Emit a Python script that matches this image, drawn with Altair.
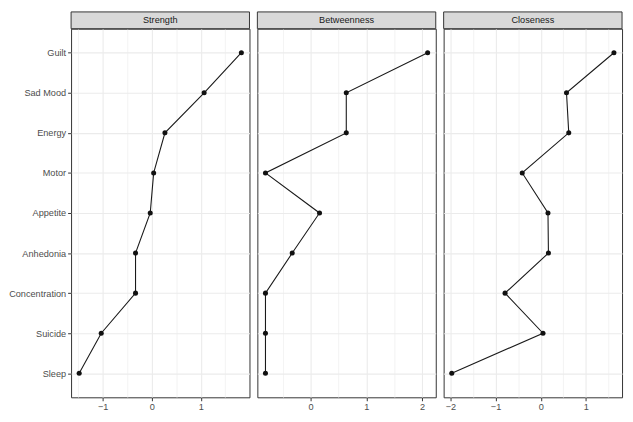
import altair as alt
import pandas as pd

symptoms = ["Guilt", "Sad Mood", "Energy", "Motor", "Appetite", "Anhedonia",
            "Concentration", "Suicide", "Sleep"]
strength = [1.83, 1.07, 0.27, 0.04, -0.03, -0.33, -0.33, -1.03, -1.48]
betweenness = [2.10, 0.64, 0.64, -0.81, 0.16, -0.33, -0.81, -0.81, -0.81]
closeness = [1.62, 0.57, 0.62, -0.41, 0.16, 0.17, -0.79, 0.05, -1.97]

measures = ["Strength", "Betweenness", "Closeness"]
major_ticks = {"Strength": [-1, 0, 1], "Betweenness": [0, 1, 2], "Closeness": [-2, -1, 0, 1]}
minor_ticks = {"Strength": [-1.5, -0.5, 0.5, 1.5],
               "Betweenness": [-0.5, 0.5, 1.5],
               "Closeness": [-1.5, -0.5, 0.5, 1.5]}

W = 181
H = 374
STRIP = 17
FONT = "Liberation Sans"


def panel(name, vals, show_y):
    df = pd.DataFrame({"symptom": symptoms, "value": vals, "idx": list(range(len(symptoms)))})
    lo, hi = min(vals), max(vals)
    pad = 0.05 * (hi - lo)
    ticks = sorted(float(t) for t in major_ticks[name] + minor_ticks[name])
    minor_test = "datum.value % 1 !== 0"
    x = alt.X(
        "value:Q",
        scale=alt.Scale(domain=[lo - pad, hi + pad], nice=False, zero=False),
        axis=alt.Axis(
            values=ticks, title=None, domain=False, grid=True,
            labelExpr="datum.value % 1 === 0 ? format(datum.value, 'd') : ''",
            tickOpacity={"condition": {"test": minor_test, "value": 0}, "value": 1},
            gridWidth={"condition": {"test": minor_test, "value": 0.6}, "value": 1.1},
        ),
    )
    y = alt.Y(
        "symptom:N", sort=symptoms,
        scale=alt.Scale(type="point", padding=0.6),
        axis=alt.Axis(title=None, domain=False, grid=True, gridWidth=1.1,
                      labels=show_y, ticks=show_y),
    )
    base = alt.Chart(df)
    line = base.mark_line(color="#1a1a1a", strokeWidth=1.1).encode(x=x, y=y, order="idx:Q")
    pts = base.mark_circle(size=26, color="#111111", opacity=1).encode(x=x, y=y)

    sdata = alt.Data(values=[{"label": name}])
    rect = alt.Chart(sdata).mark_rect(fill="#D9D9D9", stroke="#333333", strokeWidth=1).encode(
        x=alt.value(0), x2=alt.value(W), y=alt.value(-STRIP), y2=alt.value(0))
    txt = alt.Chart(sdata).mark_text(font=FONT, fontSize=9.3, color="#1A1A1A",
                                     baseline="middle", align="center").encode(
        x=alt.value(W / 2), y=alt.value(-STRIP / 2), text="label:N")
    return alt.layer(rect, txt, line, pts).properties(width=W, height=H)


vals_by = {"Strength": strength, "Betweenness": betweenness, "Closeness": closeness}
panels = [panel(m, vals_by[m], i == 0) for i, m in enumerate(measures)]

chart = alt.hconcat(*panels, spacing=6).properties(
    padding={"left": 0, "top": 0, "right": 2, "bottom": 2}
).configure_view(
    stroke="#333333", strokeWidth=1
).configure_axis(
    labelFont=FONT, labelFontSize=9.3, labelColor="#4D4D4D",
    tickColor="#333333", tickSize=3.5, tickWidth=1, labelPadding=2,
    gridColor="#EBEBEB",
)

chart.save("out.html", embed_options={"renderer": "svg", "actions": False})
